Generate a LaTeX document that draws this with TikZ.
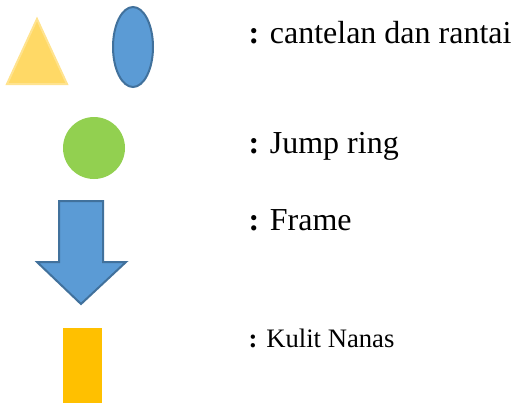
\documentclass[tikz,border=0pt]{standalone}
\usepackage{fontspec}
\newfontfamily\legendfont{Liberation Serif}
\definecolor{nanasyellow}{HTML}{FFD966}
\definecolor{nanasedge}{HTML}{FFE38F}
\definecolor{ringblue}{HTML}{5B9BD5}
\definecolor{ringedge}{HTML}{41719C}
\definecolor{ringgreen}{HTML}{92D050}
\definecolor{kulitorange}{HTML}{FFC000}
\tikzset{
  legend/.style={anchor=base west, inner sep=0pt, font=\legendfont\fontsize{12}{14.4}\selectfont},
  blueshape/.style={fill=ringblue, draw=ringedge, line width=0.75pt}
}
\begin{document}
\begin{tikzpicture}[x=0.375pt,y=-0.375pt]
      \useasboundingbox (0,0) rectangle (514,405);
      % shapes
      \filldraw[fill=nanasyellow, draw=nanasedge, line width=0.75pt]
        (37,19) -- (67,84) -- (7,84) -- cycle;
      \filldraw[blueshape] (133,47) ellipse [x radius=20, y radius=40];
      \fill[ringgreen] (94,148) circle [radius=31];
      \filldraw[blueshape]
        (59,201) -- (103,201) -- (103,262) -- (126,262) -- (81,304)
        -- (37,262) -- (59,262) -- cycle;
      \fill[kulitorange] (63,328) rectangle (102,403);
      % keterangan
      \draw
        (248,43) node[legend] (cantelan){\textbf{:} cantelan dan rantai}
        (248,153) node[legend] (jumpring){\textbf{:} Jump ring}
        (248,230) node[legend] (frame){\textbf{:} Frame}
        (248,347) node[legend, font=\legendfont\fontsize{10}{12}\selectfont] (kulit){\textbf{:} Kulit Nanas};
    \end{tikzpicture}
\end{document}
